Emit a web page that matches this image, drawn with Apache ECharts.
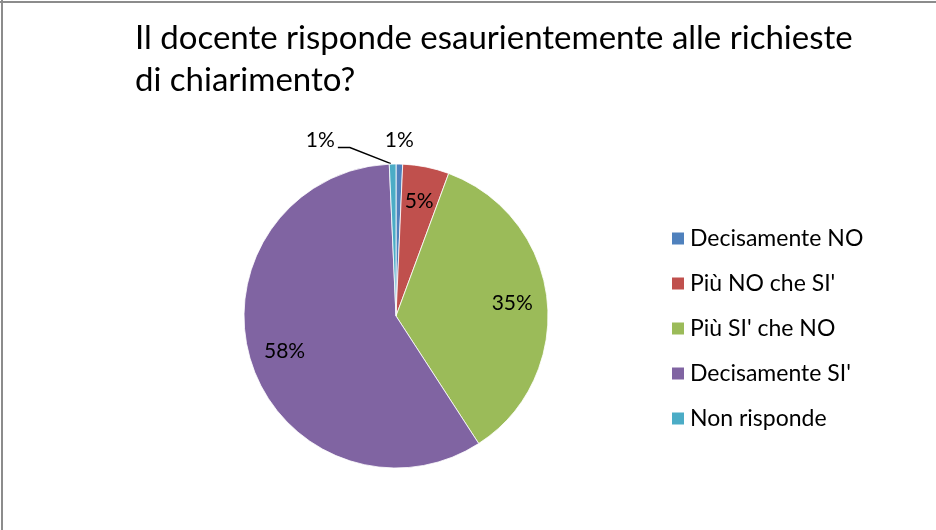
<!doctype html>
<html>
    <head>
        <meta charset="utf-8">
        <style>
            html, body { margin: 0; padding: 0; background: #fff; }
            #main { width: 936px; height: 530px; }
        </style>
    </head>
    <body>
        <div id="main"></div>
        <script src="https://cdn.jsdelivr.net/npm/echarts@6/dist/echarts.min.js"></script>
        <script>
            var chart = echarts.init(document.getElementById('main'));

            var TITLE = 'Il docente risponde esaurientemente alle richieste\ndi chiarimento?';
            var categories = ['Decisamente NO', 'Più NO che SI\'', 'Più SI\' che NO', 'Decisamente SI\'', 'Non risponde'];
            var answers = [1, 7, 50, 83, 1];
            var colors = ['#4F81BD', '#C0504D', '#9BBB59', '#8064A2', '#4BACC6'];

            var FONT = 'Lato';
            var total = answers.reduce(function (a, b) { return a + b; }, 0);

            function pct(p) {
                return Math.round(p.percent) + '%';
            }

            // small slices get their label outside, the rest inside
            var mainData = categories.map(function (name, i) {
                var small = answers[i] / total < 0.02;
                return {
                    name: name,
                    value: answers[i],
                    label: { show: small },
                    labelLine: { show: small }
                };
            });
            var innerData = categories.map(function (name, i) {
                return {
                    name: name,
                    value: answers[i],
                    label: { show: answers[i] / total >= 0.02 }
                };
            });

            // put the two tiny labels above the slices, like the original
            function placeSmallLabels(params) {
                var r = params.rect;
                var top = r.y - 23;
                if (params.dataIndex === 0) {
                    return {
                        x: r.x + r.width / 2,
                        y: top,
                        align: 'center',
                        verticalAlign: 'middle',
                        labelLinePoints: [[r.x, r.y], [r.x, r.y], [r.x, r.y]]
                    };
                }
                return {
                    x: r.x - 54,
                    y: top,
                    align: 'right',
                    verticalAlign: 'middle',
                    labelLinePoints: [[r.x + 2, r.y], [r.x - 39, r.y - 16], [r.x - 51, r.y - 16]]
                };
            }

            chart.setOption({
                color: colors,
                animation: false,
                title: {
                    text: TITLE,
                    left: 130,
                    top: 12,
                    textStyle: {
                        fontFamily: FONT,
                        fontWeight: 'normal',
                        fontSize: 33,
                        lineHeight: 42,
                        color: '#000'
                    }
                },
                legend: {
                    orient: 'vertical',
                    left: 670,
                    top: 227,
                    padding: 0,
                    itemWidth: 14,
                    itemHeight: 14,
                    itemGap: 22,
                    icon: 'rect',
                    data: categories,
                    textStyle: {
                        fontFamily: FONT,
                        fontSize: 23,
                        color: '#000'
                    }
                },
                graphic: [
                    { type: 'line', silent: true, shape: { x1: 0, y1: 2, x2: 936, y2: 2 }, style: { stroke: '#8c8c8c', lineWidth: 2 } },
                    { type: 'line', silent: true, shape: { x1: 2, y1: 0, x2: 2, y2: 530 }, style: { stroke: '#8c8c8c', lineWidth: 2 } }
                ],
                series: [{
                    type: 'pie',
                    center: [396, 316],
                    radius: [0, 152],
                    startAngle: 90,
                    clockwise: true,
                    data: mainData,
                    itemStyle: {
                        borderColor: '#fff',
                        borderWidth: 0.8
                    },
                    label: {
                        position: 'outside',
                        formatter: pct,
                        fontFamily: FONT,
                        fontSize: 21,
                        color: '#000'
                    },
                    labelLine: {
                        length: 16,
                        length2: 12,
                        lineStyle: { color: '#000', width: 1.5 }
                    },
                    labelLayout: placeSmallLabels
                }, {
                    // transparent ring only used to place the inside labels
                    type: 'pie',
                    silent: true,
                    center: [396, 316],
                    radius: [76, 152],
                    startAngle: 90,
                    clockwise: true,
                    data: innerData,
                    itemStyle: { color: 'transparent' },
                    label: {
                        position: 'inside',
                        formatter: pct,
                        fontFamily: FONT,
                        fontSize: 21,
                        color: '#000'
                    },
                    labelLine: { show: false }
                }]
            });

            window.addEventListener('resize', function () {
                chart.resize();
            });
        </script>
    </body>
</html>
